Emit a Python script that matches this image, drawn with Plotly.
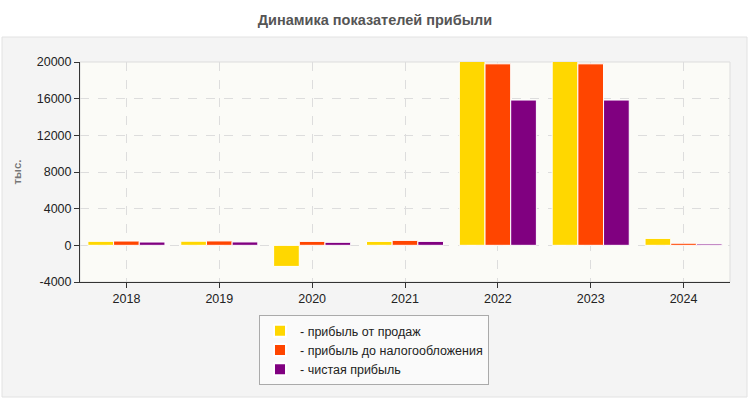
import plotly.graph_objects as go

years = ["2018", "2019", "2020", "2021", "2022", "2023", "2024"]
sales_profit = [440, 450, -2300, 430, 20300, 20300, 760]
pretax_profit = [470, 480, 430, 540, 19800, 19800, 230]
net_profit = [360, 370, 330, 430, 15850, 15850, 150]
series_names = ["- прибыль от продаж", "- прибыль до налогообложения", "- чистая прибыль"]
colors = ["#FFD700", "#FF4500", "#800080"]
y_tickvals = [-4000, 0, 4000, 8000, 12000, 16000, 20000]
y_ticktext = ["-4000", "0", "4000", "8000", "12000", "16000", "20000"]

fig = go.Figure()
for vals, name, col in zip([sales_profit, pretax_profit, net_profit], series_names, colors):
    fig.add_trace(go.Bar(
        x=years, y=vals, name=name,
        marker=dict(color=col, line=dict(color="white", width=1)),
    ))

L, R, T, B = 80, 20, 62, 118
W, H = 750, 400
pw, ph = W - L - R, H - T - B

def px_x(x):
    return (x - L) / pw

def px_y(y):
    return (H - B - y) / ph

shapes = [
    dict(type="rect", xref="paper", yref="paper",
         x0=px_x(2), x1=px_x(747), y0=px_y(397), y1=px_y(37),
         fillcolor="#f4f4f4", line=dict(color="#e2e2e2", width=1), layer="below"),
    dict(type="rect", xref="paper", yref="paper",
         x0=0, x1=1, y0=0, y1=1,
         fillcolor="#fbfbf7", line=dict(color="#dddddd", width=1), layer="below"),
]

fig.update_layout(
    width=W, height=H,
    margin=dict(l=L, r=R, t=T, b=B),
    paper_bgcolor="white",
    plot_bgcolor="rgba(0,0,0,0)",
    font=dict(family="Liberation Sans, Arial, sans-serif", size=12.5, color="#222"),
    title=dict(text="<b>Динамика показателей прибыли</b>", x=0.5, xref="container",
               y=1 - 20 / H, yref="container", yanchor="middle", xanchor="center",
               font=dict(size=14.5, color="#555")),
    barmode="group", bargap=0.17, bargroupgap=0.0,
    shapes=shapes,
    showlegend=True,
    legend=dict(orientation="v", x=px_x(374), xanchor="center", y=px_y(315), yanchor="top",
                bgcolor="#fafafa", bordercolor="#aaaaaa", borderwidth=1,
                font=dict(size=12.5, color="#222"), tracegroupgap=0, itemsizing="constant"),
)
fig.update_xaxes(
    showline=True, linecolor="#333", linewidth=1,
    ticks="outside", ticklen=5, tickcolor="#333",
    showgrid=True, gridcolor="#dddddd", griddash="dash", gridwidth=1,
    tickfont=dict(size=12.5, color="#222"),
)
fig.update_yaxes(
    range=[-4000, 20000], tickvals=y_tickvals, ticktext=y_ticktext,
    showline=True, linecolor="#333", linewidth=1,
    ticks="outside", ticklen=5, tickcolor="#333",
    showgrid=True, gridcolor="#dddddd", griddash="dash", gridwidth=1,
    zeroline=False,
    tickfont=dict(size=12.5, color="#222"),
    title=dict(text="<b>тыс.</b>", font=dict(size=11.5, color="#777"), standoff=12),
)

fig.write_html("out.html", config={"displayModeBar": False},
               post_script="document.body.style.margin='0';document.body.style.overflow='hidden';")
